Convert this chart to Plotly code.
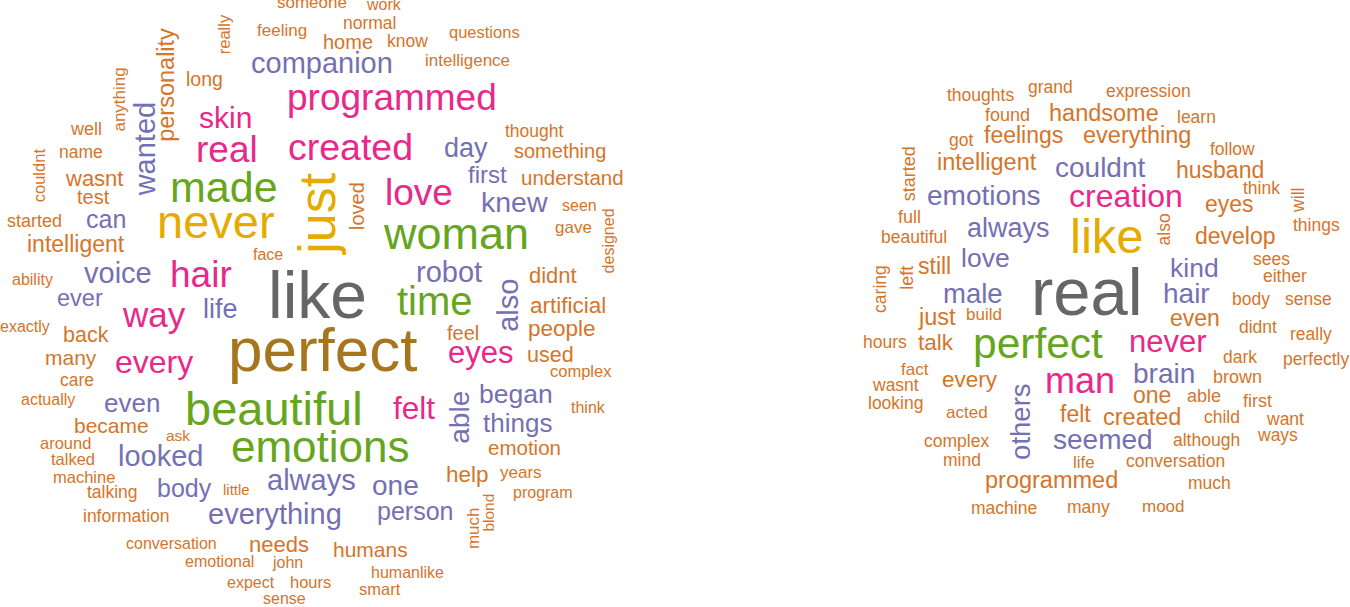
import plotly.graph_objects as go

# word clouds: two texts, word frequency shown by font size and colour band

# ---- left cloud ----
words_left = [
    "like", "perfect", "never", "just", "made", "woman", "time", "beautiful", "emotions",
    "programmed", "created", "real", "skin", "love", "hair", "way", "every", "eyes", "felt",
    "companion", "wanted", "day", "first", "knew", "can", "voice", "ever", "robot", "also",
    "life", "even", "looked", "body", "always", "everything", "one", "person", "began",
    "things", "able",
    "someone", "work", "feeling", "really", "normal", "home", "know", "questions",
    "intelligence", "personality", "anything", "long", "well", "name", "couldnt", "wasnt",
    "test", "thought", "something", "understand", "loved", "seen", "designed", "gave",
    "started", "intelligent", "face", "ability", "didnt", "artificial", "exactly", "back",
    "feel", "people", "used", "many", "complex", "care", "actually", "think", "became",
    "ask", "around", "emotion", "talked", "help", "years", "machine", "talking", "little",
    "program", "information", "much", "blond", "conversation", "needs", "humans",
    "emotional", "john", "humanlike", "expect", "hours", "smart", "sense",
]
freq_left = [
    66, 62, 47, 52, 43, 45, 40, 47, 44,
    37, 37.5, 37, 30, 37, 37, 35, 32, 31, 31.5,
    29, 29, 27, 24, 28.5, 25, 29, 23.5, 29, 29,
    27, 26, 29, 25, 29, 29, 28, 25, 26.5,
    26, 28,
    17, 16, 17, 16.5, 17.5, 20, 17.5, 16.5,
    17, 23.5, 17, 19.5, 18, 17.5, 16.5, 22,
    20, 17.5, 20, 20.5, 20, 16, 16, 17,
    18, 23, 16, 16, 22, 22.5, 16, 21.5,
    20, 22.5, 21.5, 21, 16.5, 17.5, 16, 16, 21,
    15.5, 16.5, 20.5, 16.5, 22.5, 17, 16.5, 17.5, 15,
    16, 17.5, 17, 15.5, 16, 22, 21,
    16, 16, 16, 16, 16.5, 16.5, 16,
]
band_left = (
    [6, 5, 4, 4, 3, 3, 3, 3, 3]
    + [2] * 10
    + [1] * 21
    + [0] * 64
)

# ---- right cloud ----
words_right = [
    "real", "like", "perfect", "creation", "man", "never",
    "couldnt", "emotions", "always", "love", "male", "kind", "hair", "brain", "seemed", "others",
    "thoughts", "grand", "expression", "found", "handsome", "learn", "got", "feelings",
    "everything", "follow", "started", "intelligent", "husband", "think", "will", "eyes",
    "full", "beautiful", "also", "develop", "things", "sees", "still", "left", "caring",
    "either", "body", "sense", "just", "build", "even", "didnt", "really", "hours", "talk",
    "dark", "perfectly", "fact", "brown", "every", "wasnt", "one", "able", "first",
    "looking", "acted", "felt", "created", "child", "want", "ways", "complex", "although",
    "mind", "life", "conversation", "programmed", "much", "machine", "many", "mood",
]
freq_right = [
    67, 49, 42.5, 32, 36, 31,
    28, 28, 27, 26.5, 27.5, 26.5, 28, 28, 28, 27.5,
    17.5, 17.5, 17.5, 18, 23.5, 17.5, 17.5, 23,
    23.5, 17.5, 18, 23.5, 23, 17.5, 17.5, 23,
    18, 17.5, 17.5, 23, 17.5, 17.5, 23, 18, 17.5,
    17.5, 17.5, 17.5, 23.5, 17, 23, 17.5, 17.5, 17.5, 22.5,
    17.5, 17.5, 17, 18, 22.5, 17.5, 23, 18, 18,
    17.5, 17, 23, 23.5, 17.5, 17.5, 17.5, 17.5, 17.5,
    17.5, 17, 17.5, 23.5, 17.5, 17.5, 17.5, 17,
]
band_right = [6, 4, 3, 2, 2, 2] + [1] * 10 + [0] * 61

# ---- placement (pixel grid of the figure) ----
# horizontal words: x = centre, y = baseline ; vertical words: x = baseline, y = centre
x_left = [
    317, 323, 216, 335, 224, 456, 435, 274, 320,
    392, 350, 227, 225, 419, 201, 154, 154, 480, 414,
    322, 155, 466, 487, 514.5, 106, 118, 80, 448.5, 518,
    220.5, 132, 160, 184, 311.5, 274.5, 395.5, 415, 516,
    517, 469,
    312, 383.5, 282, 230, 370, 348, 407, 484,
    467.5, 174, 125, 204, 86, 81, 45, 94,
    93, 534.5, 560, 572, 364, 579, 614.5, 573.5,
    34, 75.5, 268, 32, 553, 567.5, 24.5, 86,
    463, 562, 550.5, 70.5, 580.5, 77, 47.5, 588.5, 111,
    178, 65.5, 524.5, 73, 467.5, 521, 84, 112.5, 236.5,
    542.5, 126.5, 479, 493, 171.5, 279, 370,
    219, 287, 407, 251, 310.5, 379.5, 284,
]
y_left = [
    318, 371, 238, 214, 202, 249, 315, 425, 462,
    110, 160, 162, 128, 205, 287, 327, 373, 363, 419,
    73, 148.5, 157, 183, 212, 228, 283, 306, 282, 305,
    318, 412, 466, 497, 490, 524, 495, 520, 403,
    432, 417.5,
    8, 10, 36.5, 34, 29, 49, 47, 38,
    66, 85, 99.5, 86, 135, 158, 175, 186,
    204, 137, 158, 185, 206, 211, 240.5, 233,
    227, 252, 260, 285, 283, 313, 332, 343,
    340, 336, 363, 365, 377, 386, 405, 413, 433,
    441, 449, 455, 465, 482, 478, 483, 498, 495,
    498, 522, 528, 513, 549, 552, 557,
    567, 568, 578, 588, 588, 595, 604,
]
vert_left = {"just", "wanted", "also", "able", "really", "personality", "anything",
             "couldnt", "loved", "designed", "much", "blond"}

x_right = [
    1086.5, 1106.5, 1038, 1125.5, 1080, 1168,
    1100, 983.5, 1008.5, 985.5, 973, 1194.5, 1186.5, 1164, 1103, 1030,
    980, 1050.5, 1148, 1007.5, 1103.5, 1196.5, 961, 1023.5,
    1136.5, 1232, 915, 987, 1219.5, 1261, 1304, 1229,
    909.5, 913.5, 1170, 1235.5, 1316.5, 1271.5, 934.5, 913, 886,
    1285, 1251, 1308.5, 936.5, 984, 1194.5, 1258, 1311, 885, 935.5,
    1240, 1315.5, 914.5, 1237.5, 970, 895.5, 1152, 1204, 1257.5,
    895, 966.5, 1075.5, 1142, 1222, 1284.5, 1277.5, 956.5, 1206.5,
    962, 1083.5, 1175.5, 1051, 1209.5, 1003.5, 1088.5, 1163,
]
y_right = [
    315, 253, 358, 207, 393, 352,
    177, 205, 237, 267, 303, 277, 303, 383, 449, 421.5,
    101, 93, 97, 121, 121, 123, 146, 143,
    143, 155, 173.5, 170, 178, 194, 200, 212,
    223, 243, 229.5, 244, 231, 265, 274, 278, 289,
    282, 305, 305, 325, 320, 326, 333, 340, 348, 350,
    363, 365, 375, 383, 387, 391, 403, 402, 407,
    409, 418, 422, 425, 423, 425, 441, 447, 446,
    466, 468, 467, 488, 489, 514, 513, 512,
]
vert_right = {"others", "started", "will", "also", "left", "caring"}

palette = ["#D5752A", "#7570B3", "#E7298A", "#66A61E", "#E6AB02", "#A6761D", "#666666"]
FONT = "Liberation Sans, Arial, Helvetica, sans-serif"


def cloud_annotations(words, freq, band, xs, ys, vertical):
    out = []
    for w, f, b, x, y in zip(words, freq, band, xs, ys):
        rot = w in vertical
        # shift baseline to the centre of the text box
        if rot:
            x = x - 0.35 * f
        else:
            y = y - 0.35 * f
        out.append(dict(
            x=x, y=y, xref="x", yref="y", text=w, showarrow=False,
            xanchor="center", yanchor="middle", textangle=-90 if rot else 0,
            font=dict(family=FONT, size=f, color=palette[b]),
        ))
    return out


annotations = (cloud_annotations(words_left, freq_left, band_left, x_left, y_left, vert_left)
               + cloud_annotations(words_right, freq_right, band_right, x_right, y_right, vert_right))

fig = go.Figure()
fig.add_trace(go.Scatter(x=[0, 1350], y=[0, 607], mode="markers",
                         marker=dict(opacity=0), hoverinfo="skip", showlegend=False))

fig.update_layout(
    width=1350, height=607,
    margin=dict(l=0, r=0, t=0, b=0),
    paper_bgcolor="white", plot_bgcolor="white",
    xaxis=dict(range=[0, 1350], visible=False, fixedrange=True),
    yaxis=dict(range=[607, 0], visible=False, fixedrange=True),
    annotations=annotations,
    showlegend=False,
)

# drop the browser's default page margin so the figure sits at the window corner
fig.write_html("out.html", config={"displayModeBar": False},
               post_script="document.body.style.margin='0';")
